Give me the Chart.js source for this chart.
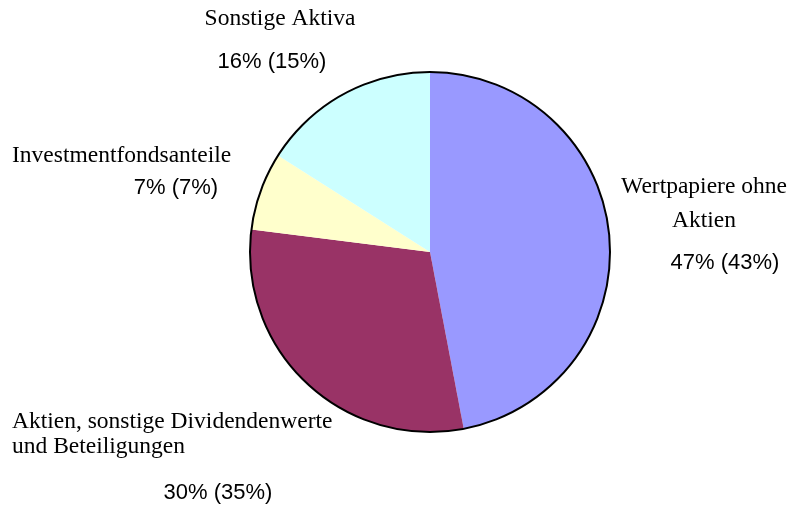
<!DOCTYPE html>
<html lang="de">
  <head>
    <meta charset="UTF-8" />
    <title>Aktiva</title>
    <style type="text/css">
      body {
        margin: 0;
        background-color: #ffffff;
      }
      .canva {
        width: 791px !important;
        height: 511px !important;
        display: block;
      }
    </style>
  </head>
  <body>
    <canvas id="pie-charting" class="canva" width="791" height="511"></canvas>

    <script src="https://cdn.jsdelivr.net/npm/chart.js@4.4.0/dist/chart.umd.min.js"></script>

    <script type="text/javascript">
      const categories = [
        "Wertpapiere ohne Aktien",
        "Aktien, sonstige Dividendenwerte und Beteiligungen",
        "Investmentfondsanteile",
        "Sonstige Aktiva",
      ];
      const shares = [47, 30, 7, 16];
      const previousShares = [43, 35, 7, 15];
      const sliceColors = ["#9999ff", "#993366", "#ffffcc", "#ccffff"];

      // text blocks: name lines (serif) and the percent line (sans)
      const labelBoxes = [
        { lines: ["Wertpapiere ohne", "Aktien"], align: "center", x: 704, y: [187, 221], px: 725, py: 263 },
        { lines: ["Aktien, sonstige Dividendenwerte", "und Beteiligungen"], align: "left", x: 12, y: [422, 447], px: 218, py: 493 },
        { lines: ["Investmentfondsanteile"], align: "left", x: 12, y: [156], px: 176, py: 188 },
        { lines: ["Sonstige Aktiva"], align: "center", x: 280, y: [19], px: 272, py: 62 },
      ];

      const outlineAndLabels = {
        id: "outlineAndLabels",
        afterDatasetsDraw(chart) {
          const ctx = chart.ctx;
          const arc = chart.getDatasetMeta(0).data[0];
          ctx.save();
          ctx.beginPath();
          ctx.arc(arc.x, arc.y, arc.outerRadius, 0, Math.PI * 2);
          ctx.lineWidth = 2;
          ctx.strokeStyle = "#000000";
          ctx.stroke();

          ctx.fillStyle = "#000000";
          ctx.textBaseline = "middle";
          labelBoxes.forEach((box, i) => {
            ctx.font = '23.5px "Liberation Serif", serif';
            ctx.textAlign = box.align;
            box.lines.forEach((line, j) => {
              ctx.fillText(line, box.x, box.y[j]);
            });
            ctx.font = '22px "Liberation Sans", sans-serif';
            ctx.textAlign = "center";
            ctx.fillText(shares[i] + "% (" + previousShares[i] + "%)", box.px, box.py);
          });
          ctx.restore();
        },
      };

      new Chart("pie-charting", {
        type: "pie",
        data: {
          labels: categories,
          datasets: [
            {
              data: shares,
              backgroundColor: sliceColors,
              borderWidth: 0,
            },
          ],
        },
        options: {
          responsive: false,
          animation: false,
          layout: { padding: { left: 250, right: 181, top: 72, bottom: 79 } },
          plugins: {
            legend: { display: false },
            tooltip: { enabled: false },
          },
        },
        plugins: [outlineAndLabels],
      });
    </script>
  </body>
</html>
